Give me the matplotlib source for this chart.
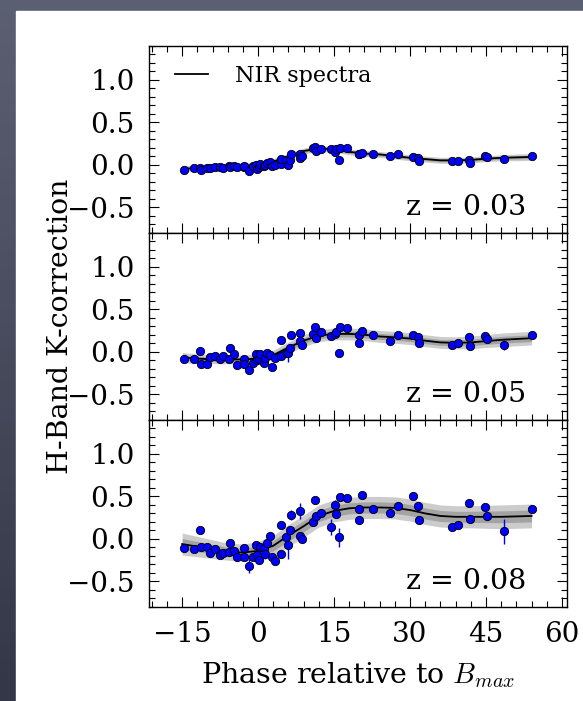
import matplotlib
matplotlib.use("Agg")
import matplotlib.pyplot as plt
import numpy as np

plt.rcParams['font.family'] = 'DejaVu Serif'
plt.rcParams['mathtext.fontset'] = 'cm'

# phases of the spectra (same epochs in every panel)
phase = [-14.6, -12.7, -11.5, -11.2, -10.1, -9.5, -8.5, -7.5, -6.9, -5.7,
         -5.6, -4.8, -4.2, -2.8, -2.7, -1.7, -1.0, -0.4, -0.3, 0.1,
         0.4, 1.2, 1.3, 1.8, 2.3, 2.7, 3.4, 4.5, 4.6, 5.6,
         6.0, 6.4, 6.5, 8.2, 8.3, 8.6, 10.8, 11.3, 11.4, 12.4,
         14.4, 15.2, 15.3, 16.0, 16.2, 17.5, 19.9, 20.0, 20.5, 22.6,
         26.0, 27.7, 30.5, 31.6, 31.7, 38.2, 39.5, 41.7, 41.8, 44.8,
         45.2, 48.5, 54.0]

k_z003 = [-0.06, -0.04, -0.04, -0.06, -0.04, -0.04, -0.03, -0.03, -0.04, -0.02,
          -0.03, -0.02, -0.03, -0.03, -0.02, -0.08, -0.02, 0.00, -0.05, -0.03,
          0.01, -0.02, 0.00, 0.02, 0.03, -0.02, 0.00, 0.01, 0.07, 0.05,
          0.00, 0.06, 0.12, 0.12, 0.08, 0.10, 0.20, 0.21, 0.16, 0.18,
          0.18, 0.15, 0.18, 0.06, 0.19, 0.20, 0.13, 0.12, 0.14, 0.13,
          0.10, 0.12, 0.09, 0.08, 0.04, 0.04, 0.04, 0.06, 0.02, 0.10,
          0.09, 0.07, 0.10]
k_z005 = [-0.08, -0.08, 0.01, -0.14, -0.14, -0.06, -0.05, -0.09, -0.05, -0.08,
          0.04, -0.03, -0.15, -0.08, -0.14, -0.21, -0.13, -0.03, -0.10, -0.09,
          -0.03, -0.13, -0.07, -0.02, -0.04, -0.18, -0.07, -0.05, 0.14, -0.02,
          -0.02, 0.05, 0.20, 0.22, 0.13, 0.08, 0.21, 0.29, 0.16, 0.23,
          0.19, 0.21, 0.23, -0.02, 0.29, 0.28, 0.20, 0.10, 0.24, 0.20,
          0.13, 0.20, 0.20, 0.17, 0.10, 0.08, 0.10, 0.17, 0.07, 0.19,
          0.15, 0.08, 0.20]
k_z008 = [-0.11, -0.12, 0.10, -0.10, -0.09, -0.17, -0.12, -0.19, -0.17, -0.15,
          -0.05, -0.14, -0.21, -0.11, -0.21, -0.32, -0.21, -0.07, -0.19, -0.25,
          -0.09, -0.11, -0.18, -0.05, 0.03, -0.21, -0.26, -0.18, 0.16, 0.02,
          -0.07, 0.10, 0.28, 0.33, 0.04, 0.00, 0.20, 0.46, 0.27, 0.31,
          0.14, 0.40, 0.29, 0.02, 0.49, 0.48, 0.35, 0.22, 0.52, 0.35,
          0.31, 0.39, 0.50, 0.39, 0.22, 0.14, 0.16, 0.42, 0.24, 0.37,
          0.27, 0.09, 0.35]

# error bars (most hidden behind the markers)
err_z003 = [0.015] * 63
err_z003[30] = 0.05
err_z005 = [0.025] * 63
err_z005[30] = 0.10
err_z005[61] = 0.06
err_z008 = [0.03] * 63
for i, e in [(12, 0.05), (15, 0.08), (22, 0.05), (30, 0.17), (32, 0.06), (33, 0.09),
             (40, 0.09), (41, 0.06), (43, 0.11), (50, 0.05), (61, 0.15)]:
    err_z008[i] = e

# template curve read at these phases
knots = [-15, -12, -9, -6, -3, 0, 3, 6, 9, 12, 15, 18, 21, 24, 27, 30, 33, 36,
         39, 42, 45, 48, 51, 54]
fit_z003 = [-0.05, -0.04, -0.03, -0.02, -0.015, 0.00, 0.035, 0.10, 0.16, 0.19,
            0.18, 0.15, 0.13, 0.12, 0.10, 0.08, 0.065, 0.05, 0.05, 0.055, 0.07,
            0.08, 0.085, 0.09]
fit_z005 = [-0.07, -0.08, -0.09, -0.09, -0.09, -0.08, -0.04, 0.05, 0.13, 0.19,
            0.21, 0.21, 0.20, 0.18, 0.17, 0.155, 0.13, 0.11, 0.105, 0.11, 0.125,
            0.14, 0.15, 0.16]
fit_z008 = [-0.06, -0.09, -0.12, -0.15, -0.16, -0.14, -0.08, 0.04, 0.15, 0.27,
            0.33, 0.36, 0.37, 0.37, 0.365, 0.34, 0.30, 0.27, 0.26, 0.26, 0.26,
            0.26, 0.265, 0.27]
band_z003 = [0.04, 0.035, 0.03, 0.03, 0.03, 0.03, 0.035, 0.035, 0.035, 0.035,
             0.035, 0.035, 0.035, 0.035, 0.035, 0.035, 0.035, 0.035, 0.035, 0.035,
             0.035, 0.035, 0.04, 0.04]
band_z005 = [0.06, 0.055, 0.05, 0.05, 0.05, 0.055, 0.06, 0.065, 0.07, 0.07,
             0.07, 0.07, 0.07, 0.07, 0.07, 0.07, 0.07, 0.07, 0.07, 0.075, 0.075,
             0.08, 0.08, 0.08]
band_z008 = [0.13, 0.12, 0.11, 0.10, 0.10, 0.11, 0.12, 0.13, 0.13, 0.13,
             0.13, 0.13, 0.13, 0.13, 0.13, 0.13, 0.13, 0.13, 0.13, 0.13, 0.135,
             0.14, 0.14, 0.14]

panels = [("z = 0.03", k_z003, err_z003, fit_z003, band_z003),
          ("z = 0.05", k_z005, err_z005, fit_z005, band_z005),
          ("z = 0.08", k_z008, err_z008, fit_z008, band_z008)]

fig = plt.figure(figsize=(5.83, 7.01), dpi=100, facecolor='#4f5566')

# slide background + white sheet
bg = fig.add_axes([0, 0, 1, 1], zorder=-10)
grad = np.linspace(0, 1, 50).reshape(-1, 1)
bg.imshow(grad, aspect='auto', cmap=matplotlib.colors.LinearSegmentedColormap.from_list(
    'slide', ['#5a6072', '#333848']), extent=[0, 1, 0, 1])
bg.add_patch(plt.Rectangle((16 / 583., 0), 1, 1 - 11 / 701., color='white'))
bg.set_xlim(0, 1)
bg.set_ylim(0, 1)
bg.axis('off')

left, right = 148.7 / 583., 567. / 583.
top, bottom = 1 - 45.5 / 701., 1 - 607. / 701.
h = (top - bottom) / 3.

axes = []
for i, (lab, kc, err, fit, band) in enumerate(panels):
    ax = fig.add_axes([left, top - (i + 1) * h, right - left, h])
    axes.append(ax)
    fit = np.array(fit)
    band = np.array(band)
    ax.fill_between(knots, fit - band, fit + band, color='k', alpha=0.2, lw=0)
    ax.fill_between(knots, fit - band / 2., fit + band / 2., color='k', alpha=0.2, lw=0)
    ax.plot(knots, fit, 'k-', lw=1.3, label="NIR spectra", zorder=3)
    ax.errorbar(phase, kc, yerr=err, fmt='o', color='b', ms=6, mec='k', mew=0.6,
                ecolor='b', elinewidth=1, capsize=0, zorder=4)
    ax.set_xlim(-21.6, 61)
    ax.set_ylim(-0.8, 1.4)
    ax.set_yticks([-0.5, 0.0, 0.5, 1.0])
    ax.set_xticks([-15, 0, 15, 30, 45, 60])
    ax.set_xticks(np.arange(-21, 61, 3), minor=True)
    ax.set_yticks(np.arange(-0.8, 1.41, 0.1), minor=True)
    ax.tick_params(which='both', direction='in', top=True, right=True, labelsize=20,
                   width=0.8, pad=10)
    ax.tick_params(which='major', length=7.5)
    ax.tick_params(which='minor', length=4)
    ax.text(0.902, 0.134, lab, transform=ax.transAxes, ha='right', va='center', fontsize=20.5)
    if i < 2:
        ax.tick_params(labelbottom=False)
    for s in ax.spines.values():
        s.set_linewidth(1.0)

axes[0].legend(loc='center left', frameon=False, fontsize=16, handlelength=1.5,
               handletextpad=1.2, borderaxespad=0, borderpad=0,
               bbox_to_anchor=(0.063, 0.837))
axes[2].set_xlabel(r"Phase relative to $B_{max}$", fontsize=20.5, labelpad=9)
fig.text(0.103, (top + bottom) / 2., "H-Band K-correction", rotation=90, ha='center',
         va='center', fontsize=20.5)

fig.savefig("out.png", dpi=100, facecolor=fig.get_facecolor())
